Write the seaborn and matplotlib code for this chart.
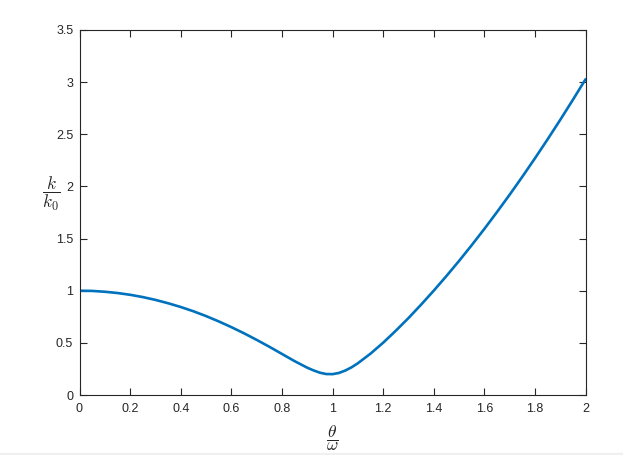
import matplotlib
matplotlib.use('Agg')
import matplotlib.pyplot as plt
import matplotlib.patches as mpatches
import seaborn as sns
import pandas as pd

# values
theta_over_omega = [0.00, 0.05, 0.10, 0.15, 0.20, 0.25, 0.30, 0.35, 0.40, 0.45,
                    0.50, 0.55, 0.60, 0.65, 0.70, 0.75, 0.80, 0.85, 0.90, 0.925,
                    0.95, 0.975, 1.00, 1.025, 1.05, 1.075, 1.10, 1.15, 1.20, 1.25,
                    1.30, 1.35, 1.40, 1.45, 1.50, 1.55, 1.60, 1.65, 1.70, 1.75,
                    1.80, 1.85, 1.90, 1.95, 2.00]
k_over_k0 = [1.000, 0.998, 0.990, 0.978, 0.961, 0.939, 0.912, 0.880, 0.844, 0.803,
             0.757, 0.706, 0.651, 0.592, 0.529, 0.463, 0.394, 0.325, 0.262, 0.236,
             0.214, 0.201, 0.200, 0.211, 0.234, 0.265, 0.304, 0.396, 0.501, 0.616,
             0.737, 0.866, 1.000, 1.140, 1.285, 1.436, 1.592, 1.754, 1.920, 2.092,
             2.269, 2.451, 2.638, 2.830, 3.027]

x_ticks = [0, 0.2, 0.4, 0.6, 0.8, 1, 1.2, 1.4, 1.6, 1.8, 2]
x_tick_labels = ['0', '0.2', '0.4', '0.6', '0.8', '1', '1.2', '1.4', '1.6', '1.8', '2']
y_ticks = [0, 0.5, 1, 1.5, 2, 2.5, 3, 3.5]
y_tick_labels = ['0', '0.5', '1', '1.5', '2', '2.5', '3', '3.5']

sns.set_style('white')
plt.rcParams['font.family'] = ['Liberation Sans', 'DejaVu Sans']
plt.rcParams['mathtext.fontset'] = 'cm'

df = pd.DataFrame({'x': theta_over_omega, 'y': k_over_k0})

fig = plt.figure(figsize=(6.23, 4.55), dpi=100)
ax = fig.add_axes([79.5 / 623, 60 / 455, 506 / 623, 365 / 455])

sns.lineplot(data=df, x='x', y='y', ax=ax, color='#0072BD', linewidth=1.9)

ax.set_xlim(0, 2)
ax.set_ylim(0, 3.5)
ax.set_xticks(x_ticks)
ax.set_xticklabels(x_tick_labels)
ax.set_yticks(y_ticks)
ax.set_yticklabels(y_tick_labels)
ax.tick_params(direction='in', length=5, width=0.8, color='#262626', labelcolor='#262626',
               labelsize=9, top=True, right=True, bottom=True, left=True)
ax.tick_params(axis='x', pad=5.5)
ax.tick_params(axis='y', pad=4.5)
for s in ax.spines.values():
    s.set_color('#262626')
    s.set_linewidth(0.8)

ax.set_xlabel(r'$\dfrac{\theta}{\omega}$', fontsize=12.5, color='#262626')
ax.xaxis.set_label_coords(0.5, -0.118)
ax.xaxis.label.set_va('center')
ax.set_ylabel(r'$\dfrac{k}{k_0}$', fontsize=12.5, color='#262626', rotation=0)
ax.yaxis.set_label_coords(-0.056, 0.552)
ax.yaxis.label.set_va('center')
ax.yaxis.label.set_ha('center')

# light strip along the bottom edge of the screenshot
fig.add_artist(mpatches.Rectangle((0, 0), 1, 2.5 / 455, transform=fig.transFigure,
                                  color='#f0f0f0', zorder=-1))

fig.savefig('out.png', dpi=100)
